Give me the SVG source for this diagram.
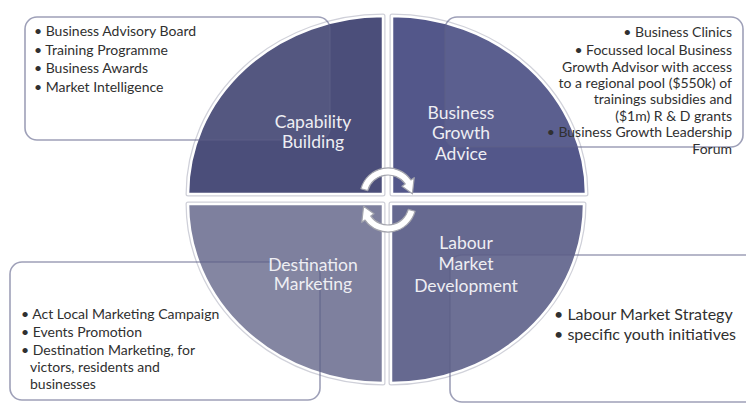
<svg xmlns="http://www.w3.org/2000/svg" width="746" height="404" viewBox="0 0 746 404">
  <style>
    .halo { fill: none; stroke: #cfd0d9; stroke-width: 5; stroke-linejoin: round; }
    .quad { stroke: #ffffff; stroke-width: 2.5; stroke-linejoin: round; }
    .box { fill: #fbfbfc; fill-opacity: 0.05; stroke: #5d6088; stroke-opacity: 0.6; stroke-width: 1.6; }
    .label { font-family: Lato, "Liberation Sans", sans-serif; font-size: 17.5px; fill: #eeeef3; text-anchor: middle; }
    .item { font-family: Lato, "Liberation Sans", sans-serif; font-size: 14px; fill: #303030; }
    .big { font-size: 16px; }
    .right { text-anchor: end; }
    .cycle { fill: #ffffff; stroke: #a3a4ad; stroke-width: 1.2; stroke-linejoin: round; }
  </style>
  <defs>
    <path id="arc-arrow" d="M360.95,188.75 A28,28 0 0 1 410.94,179.94 L414.21,177.65 L412.41,193.86 L401.93,186.25 L405.2,183.96 A21,21 0 0 0 367.72,190.56 Z"/>
  </defs>
  <rect width="746" height="404" fill="#ffffff"/>

  <!-- quarter segments of the cycle -->
  <g id="capability-building">
    <path class="halo" d="M383,194 L188,194 A195,178 0 0 1 383,16 Z"/>
    <path class="quad" fill="#4b4e7a" d="M383,194 L188,194 A195,178 0 0 1 383,16 Z"/>
  </g>
  <g id="business-growth-advice">
    <path class="halo" d="M392,194 L392,16 A194,178 0 0 1 586,194 Z"/>
    <path class="quad" fill="#53578a" d="M392,194 L392,16 A194,178 0 0 1 586,194 Z"/>
  </g>
  <g id="destination-marketing">
    <path class="halo" d="M383,204 L383,383 A195,179 0 0 1 188,204 Z"/>
    <path class="quad" fill="#7e809e" d="M383,204 L383,383 A195,179 0 0 1 188,204 Z"/>
  </g>
  <g id="labour-market-development">
    <path class="halo" d="M391,204 L584,204 A193,179 0 0 1 391,383 Z"/>
    <path class="quad" fill="#666990" d="M391,204 L584,204 A193,179 0 0 1 391,383 Z"/>
  </g>

  <!-- circular arrows in the middle -->
  <g id="connectors">
    <use href="#arc-arrow" class="cycle"/>
    <use href="#arc-arrow" class="cycle" transform="rotate(180 388 200)"/>
  </g>

  <!-- detail panels -->
  <g id="capability-details">
    <rect class="box" x="25" y="17" width="305" height="123" rx="12"/>
    <text class="item" x="34" y="36">• Business Advisory Board</text>
    <text class="item" x="34" y="55">• Training Programme</text>
    <text class="item" x="34" y="73">• Business Awards</text>
    <text class="item" x="34" y="92">• Market Intelligence</text>
  </g>
  <g id="growth-details">
    <rect class="box" x="445" y="17" width="298" height="130" rx="12"/>
    <text class="item right" x="732" y="37">• Business Clinics</text>
    <text class="item right" x="732" y="55">• Focussed local Business</text>
    <text class="item right" x="732" y="72">Growth Advisor with access</text>
    <text class="item right" x="732" y="88">to a regional pool ($550k) of</text>
    <text class="item right" x="732" y="104">trainings subsidies and</text>
    <text class="item right" x="732" y="121">($1m) R &amp; D grants</text>
    <text class="item right" x="732" y="137">• Business Growth Leadership</text>
    <text class="item right" x="732" y="154">Forum</text>
  </g>
  <g id="destination-details">
    <rect class="box" x="10" y="262" width="310" height="138" rx="12"/>
    <text class="item" x="21" y="319">• Act Local Marketing Campaign</text>
    <text class="item" x="21" y="337">• Events Promotion</text>
    <text class="item" x="21" y="355">• Destination Marketing, for</text>
    <text class="item" x="30" y="372">victors, residents and</text>
    <text class="item" x="30" y="389">businesses</text>
  </g>
  <g id="labour-details">
    <rect class="box" x="450" y="255" width="320" height="147" rx="12"/>
    <text class="item big" x="554" y="320">• Labour Market Strategy</text>
    <text class="item big" x="554" y="340">• specific youth initiatives</text>
  </g>

  <!-- segment titles -->
  <g id="segment-titles">
    <text class="label" x="313" y="128">Capability</text>
    <text class="label" x="313" y="148">Building</text>
    <text class="label" x="461" y="119">Business</text>
    <text class="label" x="461" y="139">Growth</text>
    <text class="label" x="461" y="160">Advice</text>
    <text class="label" x="313" y="271">Destination</text>
    <text class="label" x="313" y="290">Marketing</text>
    <text class="label" x="466" y="249">Labour</text>
    <text class="label" x="466" y="270">Market</text>
    <text class="label" x="466" y="292">Development</text>
  </g>
</svg>
